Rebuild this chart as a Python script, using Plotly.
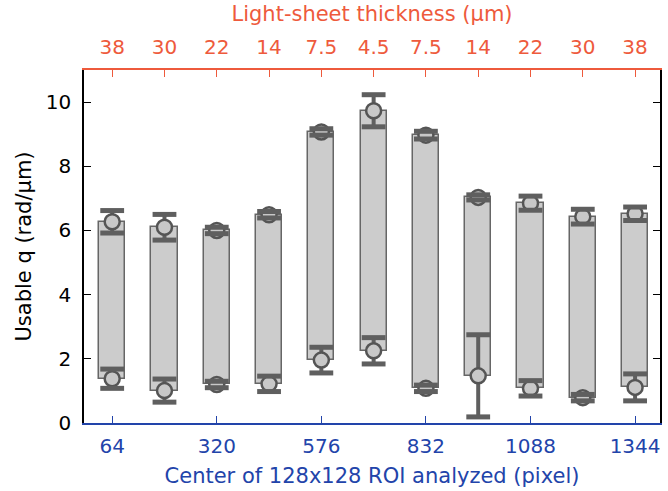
import plotly.graph_objects as go

# ---- data ----
roi_center = [64, 192, 320, 448, 576, 704, 832, 960, 1088, 1216, 1344]
bottom_ticks = [64, 320, 576, 832, 1088, 1344]
thickness_labels = ["38", "30", "22", "14", "7.5", "4.5", "7.5", "14", "22", "30", "38"]
q_high = [6.27, 6.10, 6.00, 6.49, 9.07, 9.73, 8.97, 7.03, 6.85, 6.43, 6.52]
q_high_err = [0.35, 0.40, 0.10, 0.10, 0.10, 0.50, 0.12, 0.08, 0.22, 0.23, 0.21]
q_low = [1.38, 1.01, 1.20, 1.22, 1.96, 2.25, 1.08, 1.47, 1.08, 0.79, 1.11]
q_low_err = [0.30, 0.36, 0.10, 0.24, 0.40, 0.41, 0.10, 1.28, 0.24, 0.10, 0.42]

ORANGE = "#EE5A3C"
BLUE = "#2244AA"
ERR = "#5f5f5f"
FONT = "DejaVu Sans"
TICK_SIZE = 20
TITLE_SIZE = 21

fig = go.Figure()

# floating range bars
fig.add_trace(go.Bar(
    x=roi_center, base=q_low, y=[h - l for h, l in zip(q_high, q_low)],
    width=64, marker=dict(color="#cccccc", line=dict(color="#666666", width=1.5)),
    showlegend=False, hoverinfo="skip"))

xs = roi_center + roi_center
ys = q_high + q_low
es = q_high_err + q_low_err

# markers with error stems beneath
fig.add_trace(go.Scatter(
    x=xs, y=ys, mode="markers",
    marker=dict(size=15, color="#c8c8c8", line=dict(color="#555555", width=2.5)),
    error_y=dict(type="data", array=es, color=ERR, thickness=4, width=0),
    showlegend=False))

# error caps drawn on top of markers
cap_x = xs + xs
cap_y = [y + e for y, e in zip(ys, es)] + [y - e for y, e in zip(ys, es)]
fig.add_trace(go.Scatter(
    x=cap_x, y=cap_y, mode="markers",
    marker=dict(symbol="line-ew", size=17, line=dict(color=ERR, width=5)),
    showlegend=False, hoverinfo="skip"))

# dummy trace to activate the top axis
fig.add_trace(go.Scatter(x=[roi_center[0]], y=[q_high[0]], xaxis="x2", mode="markers",
                         marker=dict(opacity=0), showlegend=False, hoverinfo="skip"))

xr = [-5, 1405]
fig.update_layout(
    width=668, height=491,
    margin=dict(l=84, r=6, t=70, b=68),
    paper_bgcolor="white", plot_bgcolor="white",
    font=dict(family=FONT, size=TICK_SIZE, color="black"),
    bargap=0,
    xaxis=dict(range=xr, tickvals=bottom_ticks, ticks="inside", ticklen=7,
               tickcolor=BLUE, linecolor=BLUE, linewidth=1.5, showline=True,
               showgrid=False, zeroline=False, tickfont=dict(color=BLUE, size=TICK_SIZE),
               ticklabelstandoff=4,
               title=dict(text="Center of 128x128 ROI analyzed (pixel)",
                          font=dict(color=BLUE, size=TITLE_SIZE), standoff=12)),
    xaxis2=dict(range=xr, overlaying="x", side="top", tickvals=roi_center,
                ticktext=thickness_labels, ticks="inside", ticklen=7,
                tickcolor=ORANGE, linecolor=ORANGE, linewidth=1.5, showline=True,
                showgrid=False, zeroline=False, tickfont=dict(color=ORANGE, size=TICK_SIZE),
                ticklabelstandoff=6,
                title=dict(text="Light-sheet thickness (µm)",
                           font=dict(color=ORANGE, size=TITLE_SIZE), standoff=8)),
    yaxis=dict(range=[0, 11], tickvals=[0, 2, 4, 6, 8, 10], ticks="inside", ticklen=7,
               tickcolor="black", linecolor="black", linewidth=1.5, showline=True,
               mirror="ticks", showgrid=False, zeroline=False,
               tickfont=dict(size=TICK_SIZE), ticklabelstandoff=7,
               title=dict(text="Usable q (rad/µm)", font=dict(size=TITLE_SIZE), standoff=8)),
)

fig.write_html("out.html")
